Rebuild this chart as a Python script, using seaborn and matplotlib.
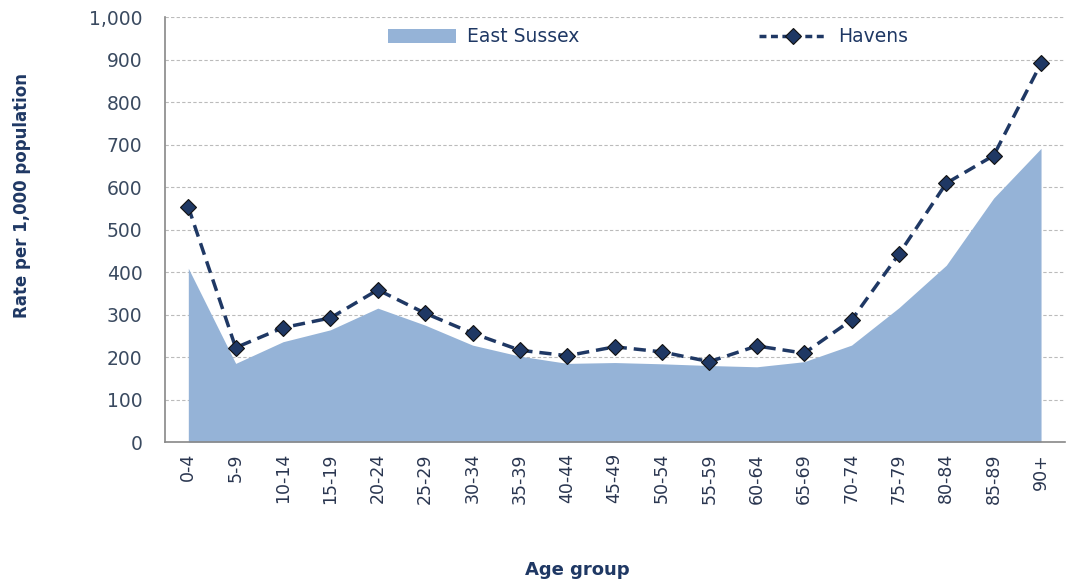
import numpy as np
import matplotlib.pyplot as plt
import seaborn as sns
import pandas as pd
from matplotlib.patches import Patch
from matplotlib.lines import Line2D

age_groups = ["0-4", "5-9", "10-14", "15-19", "20-24", "25-29", "30-34", "35-39",
              "40-44", "45-49", "50-54", "55-59", "60-64", "65-69", "70-74",
              "75-79", "80-84", "85-89", "90+"]
east_sussex = [409, 185, 236, 264, 315, 275, 228, 202, 185, 187, 184, 180, 177,
               189, 228, 316, 416, 574, 691]
havens = [553, 222, 269, 292, 358, 303, 256, 216, 203, 224, 212, 189, 226, 209,
          287, 442, 609, 674, 891]

area_col = "#95B3D7"
line_col = "#1F3864"
text_col = "#3A4A60"
dash = (0, (3.5, 2))

sns.set_style("white")
plt.rcParams['font.family'] = ['DejaVu Sans']

df = pd.DataFrame({"age": age_groups, "pos": np.arange(len(age_groups)),
                   "es": east_sussex, "hv": havens})

fig = plt.figure(figsize=(10.69, 5.87), dpi=100)
ax = fig.add_axes([0.154, 0.247, 0.842, 0.724])

ax.fill_between(df["pos"], 0, df["es"], color=area_col, lw=0, zorder=2)
sns.lineplot(data=df, x="pos", y="hv", ax=ax, color=line_col, lw=2.5,
             linestyle=dash, marker="D", markersize=8,
             markerfacecolor=line_col, markeredgecolor="#111111",
             markeredgewidth=0.8, zorder=3)

ax.set_xlim(-0.5, len(age_groups) - 0.5)
ax.set_ylim(0, 1000)
ax.set_yticks(np.arange(0, 1001, 100))
ax.set_yticklabels([f"{v:,}" for v in range(0, 1001, 100)], color=text_col, fontsize=13.5)
ax.set_xticks(np.arange(-0.5, len(age_groups), 1.0))
ax.set_xticklabels([])
ax.set_xticks(np.arange(len(age_groups)), minor=True)
ax.set_xticklabels(age_groups, minor=True, rotation=90, color="#2A3650", fontsize=12.5)
ax.tick_params(axis="x", which="major", direction="out", length=8, color="#888888", width=1)
ax.tick_params(axis="x", which="minor", length=0, pad=8)
ax.tick_params(axis="y", direction="out", length=8, color="#888888", width=1, pad=8)

ax.yaxis.grid(True, color="#BBBBBB", linestyle=(0, (3, 2)), lw=0.8, zorder=0)
ax.set_axisbelow(True)
for s in ["top", "right"]:
    ax.spines[s].set_visible(False)
for s in ["left", "bottom"]:
    ax.spines[s].set_color("#888888")
    ax.spines[s].set_linewidth(1.2)

ax.set_xlabel("Age group", fontsize=13, fontweight="bold", color=line_col, va="center")
ax.xaxis.set_label_coords(0.458, -0.301)
ax.set_ylabel("Rate per 1,000 population", fontsize=12, fontweight="bold", color=line_col,
              va="center")
ax.yaxis.set_label_coords(-0.159, 0.579)

handles = [Patch(facecolor=area_col, edgecolor="none"),
           Line2D([0], [0], color=line_col, lw=2.5, linestyle=(0, (2, 1.3)), marker="D",
                  markersize=8, markerfacecolor=line_col, markeredgecolor="#111111",
                  markeredgewidth=0.8)]
leg = ax.legend(handles, ["East Sussex", "Havens"], loc="center",
                bbox_to_anchor=(0.537, 0.953), ncol=2, frameon=True, fancybox=False,
                edgecolor="none", facecolor="white", framealpha=1,
                handlelength=3.6, handleheight=0.8, handletextpad=0.6,
                columnspacing=9.6, fontsize=13.5, borderpad=0.2)
for t in leg.get_texts():
    t.set_color(line_col)

fig.savefig("out.png", dpi=100)
